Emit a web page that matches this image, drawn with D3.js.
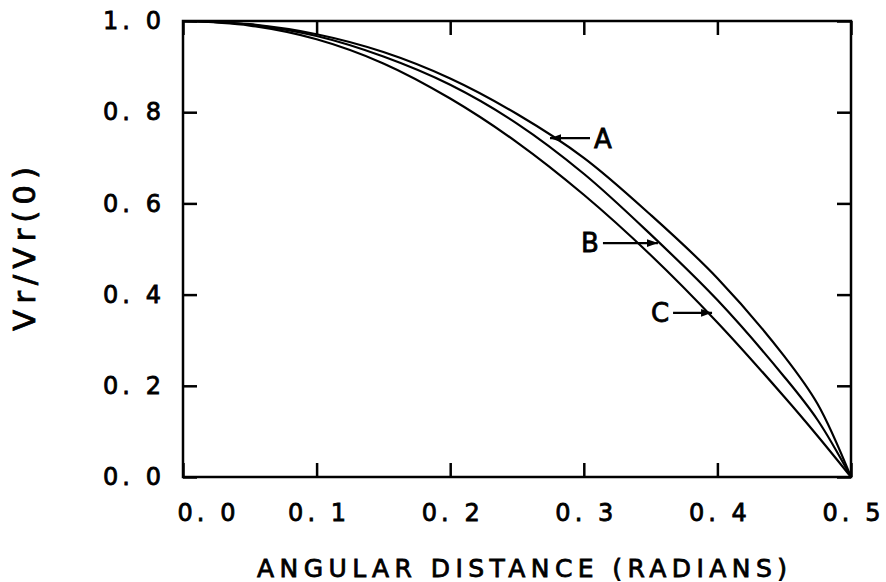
<!DOCTYPE html>
<html lang="en">
<head>
<meta charset="utf-8">
<title>Vr/Vr(0) vs angular distance</title>
<script src="https://cdn.jsdelivr.net/npm/d3@7"></script>
<style>
  body { margin: 0; background: #fff; }
  text { font-family: "DejaVu Sans", sans-serif; fill: #000; stroke: #000; stroke-width: 0.8px; }
</style>
</head>
<body>
<svg id="chart" width="886" height="582"></svg>
<script>

// values
var angle  = [0, 0.05, 0.1, 0.15, 0.2, 0.25, 0.3, 0.35, 0.4, 0.45, 0.475, 0.5]
var curveA = [1, 0.993, 0.971, 0.932, 0.874, 0.796, 0.700, 0.575, 0.436, 0.265, 0.160, 0]
var curveB = [1, 0.992, 0.967, 0.922, 0.860, 0.775, 0.665, 0.532, 0.388, 0.220, 0.125, 0]
var curveC = [1, 0.990, 0.960, 0.907, 0.830, 0.734, 0.619, 0.487, 0.339, 0.176, 0.090, 0]

var xTicks = [0, 0.1, 0.2, 0.3, 0.4, 0.5]
var yTicks = [0, 0.2, 0.4, 0.6, 0.8, 1.0]

// labels pointing at the curves
var noteLabels = ["A", "B", "C"]
var noteX      = [0.2747, 0.3555, 0.396]
var noteY      = [0.743, 0.513, 0.360]
var noteSide   = ["right", "left", "left"]

var svg = d3.select("#chart"),
    margin = {top: 21, left: 183, bottom: 105, right: 35},
    width = +svg.attr("width"),
    height = +svg.attr("height");

var x = d3.scaleLinear()
  .domain([0, 0.5])
  .range([margin.left, width - margin.right])

var y = d3.scaleLinear()
  .domain([0, 1])
  .range([height - margin.bottom, margin.top])

var fmt = d => d3.format(".1f")(d).replace(".", ". ")
var tick = 14

// frame
svg.append("rect")
  .attr("x", x(0))
  .attr("y", y(1))
  .attr("width", x(0.5) - x(0))
  .attr("height", y(0) - y(1))
  .attr("fill", "none")
  .attr("stroke", "#000")
  .attr("stroke-width", 2.5)

var xAxis = svg.append("g")
  .attr("transform", `translate(0,${y(0)})`)
  .call(d3.axisBottom(x).tickValues(xTicks).tickFormat(fmt)
    .tickSizeInner(-tick).tickSizeOuter(0).tickPadding(27))

var yAxis = svg.append("g")
  .attr("transform", `translate(${x(0)},0)`)
  .call(d3.axisLeft(y).tickValues(yTicks).tickFormat(fmt)
    .tickSizeInner(-tick).tickSizeOuter(0).tickPadding(22))

svg.append("g")
  .attr("transform", `translate(0,${y(1)})`)
  .call(d3.axisTop(x).tickValues(xTicks).tickFormat("")
    .tickSizeInner(-tick).tickSizeOuter(0))

svg.append("g")
  .attr("transform", `translate(${x(0.5)},0)`)
  .call(d3.axisRight(y).tickValues(yTicks).tickFormat("")
    .tickSizeInner(-tick).tickSizeOuter(0))

svg.selectAll(".domain").remove()
svg.selectAll(".tick line")
  .attr("stroke", "#000")
  .attr("stroke-width", 2.5)

svg.selectAll(".tick text")
  .attr("font-family", "DejaVu Sans, sans-serif")
  .attr("font-size", "24px")
  .attr("fill", "#000")
  .attr("textLength", 58)
  .attr("lengthAdjust", "spacing")
  .style("white-space", "pre")

// first x label sits right of the corner
xAxis.selectAll(".tick text").filter(d => d === 0).attr("dx", 23)

// curves
var line = d3.line()
  .x((d, i) => x(angle[i]))
  .y(d => y(d))
  .curve(d3.curveCatmullRom.alpha(0.5))

svg.selectAll(".curve")
  .data([curveA, curveB, curveC])
  .enter().append("path")
  .attr("class", "curve")
  .attr("d", line)
  .attr("fill", "none")
  .attr("stroke", "#000")
  .attr("stroke-width", 2.2)

// arrow heads
svg.append("defs").append("marker")
  .attr("id", "head")
  .attr("viewBox", "0 0 10 10")
  .attr("refX", 10)
  .attr("refY", 5)
  .attr("markerWidth", 5)
  .attr("markerHeight", 5)
  .attr("markerUnits", "strokeWidth")
  .attr("orient", "auto")
  .append("path")
  .attr("d", "M0,1.5L10,5L0,8.5Z")
  .attr("fill", "#000")

var arrowLen = [40, 55, 39]

noteLabels.forEach(function(lab, i) {
  var tx = x(noteX[i]), ty = y(noteY[i])
  var dir = noteSide[i] === "right" ? 1 : -1
  var sx = tx + dir * arrowLen[i]

  svg.append("line")
    .attr("x1", sx).attr("y1", ty)
    .attr("x2", tx).attr("y2", ty)
    .attr("stroke", "#000")
    .attr("stroke-width", 2.2)
    .attr("marker-end", "url(#head)")

  svg.append("text")
    .attr("x", sx + dir * 4)
    .attr("y", ty)
    .attr("dy", "0.36em")
    .attr("text-anchor", dir > 0 ? "start" : "end")
    .attr("font-size", "26px")
    .text(lab)
})

// axis titles
svg.append("text")
  .attr("x", (x(0) + x(0.5)) / 2 + 5)
  .attr("y", 577)
  .attr("text-anchor", "middle")
  .attr("font-size", "25px")
  .attr("textLength", 530)
  .attr("lengthAdjust", "spacing")
  .text("ANGULAR DISTANCE (RADIANS)")

svg.append("text")
  .attr("transform", `translate(35,${(y(0) + y(1)) / 2}) rotate(-90)`)
  .attr("text-anchor", "middle")
  .attr("font-size", "31px")
  .attr("textLength", 164)
  .attr("lengthAdjust", "spacing")
  .text("Vr/Vr(0)")

</script>
</body>
</html>
